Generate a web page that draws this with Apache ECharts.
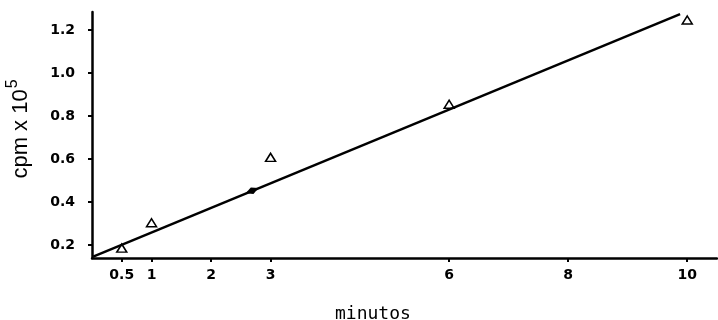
<!DOCTYPE html>
<html>
<head>
<meta charset="utf-8">
<script src="https://cdn.jsdelivr.net/npm/echarts@6/dist/echarts.min.js"></script>
<style>html,body{margin:0;padding:0;background:#fff}#c{width:718px;height:320px}</style>
</head>
<body>
<div id="c"></div>
<script>
// Data
var minutes = [0.5, 1, 3, 6, 10];
var cpm = [0.186, 0.304, 0.608, 0.855, 1.247];
var extraX = [2.69];
var extraY = [0.453];
var fitX = [0.02, 9.88];
var fitY = [0.146, 1.274];
var xTicks = [0.5, 1, 2, 3, 6, 8, 10];
var yTicks = [0.2, 0.4, 0.6, 0.8, 1.0, 1.2];

var chart = echarts.init(document.getElementById('c'), null, {renderer: 'canvas'});
var lblStyle = {color: '#000', fontFamily: 'DejaVu Sans', fontWeight: 'bold', fontSize: 14};
chart.setOption({
  backgroundColor: '#fff',
  animation: false,
  title: {
    text: 'minutos', left: 330, top: 300,
    textStyle: {fontFamily: 'DejaVu Sans Mono', fontWeight: 'normal', fontSize: 18, color: '#000'}
  },
  grid: {left: 92, right: 1, top: 12, bottom: 62, containLabel: false, outerBoundsMode: 'none'},
  xAxis: {
    type: 'value', min: 0, max: 10.5,
    axisLine: {show: true, lineStyle: {color: '#000', width: 2.5}},
    axisTick: {show: true, customValues: xTicks, length: 4, lineStyle: {color: '#000', width: 2}},
    axisLabel: Object.assign({customValues: xTicks, margin: 10, formatter: function (v) { return String(v); }}, lblStyle),
    splitLine: {show: false}
  },
  yAxis: {
    type: 'value', min: 0.14, max: 1.284,
    name: 'cpm x 10{sup|5}', nameLocation: 'middle', nameRotate: 90, nameGap: 55,
    nameTextStyle: {fontFamily: 'Liberation Sans', fontSize: 22, color: '#000', padding: [0, 0, 0, 12],
      rich: {sup: {fontFamily: 'Liberation Sans', fontSize: 16, color: '#000', padding: [0, 0, 16, 1]}}},
    axisLine: {show: true, lineStyle: {color: '#000', width: 2.5}},
    axisTick: {show: true, customValues: yTicks, length: 4, lineStyle: {color: '#000', width: 2}},
    axisLabel: Object.assign({customValues: yTicks, margin: 17, formatter: function (v) { return v.toFixed(1); }}, lblStyle),
    splitLine: {show: false}
  },
  series: [
    {
      type: 'line', data: fitX.map(function (x, i) { return [x, fitY[i]]; }),
      symbol: 'none', lineStyle: {color: '#000', width: 2.5}, z: 3
    },
    {
      type: 'scatter', data: minutes.map(function (x, i) { return [x, cpm[i]]; }),
      symbol: 'triangle', symbolSize: [10, 8],
      itemStyle: {color: '#fff', borderColor: '#000', borderWidth: 1.5, opacity: 1}, z: 2
    },
    {
      type: 'scatter', data: extraX.map(function (x, i) { return [x, extraY[i]]; }),
      symbol: 'diamond', symbolSize: [14, 7], symbolRotate: 22,
      itemStyle: {color: '#000', opacity: 1}, z: 4
    }
  ]
});
</script>
</body>
</html>
